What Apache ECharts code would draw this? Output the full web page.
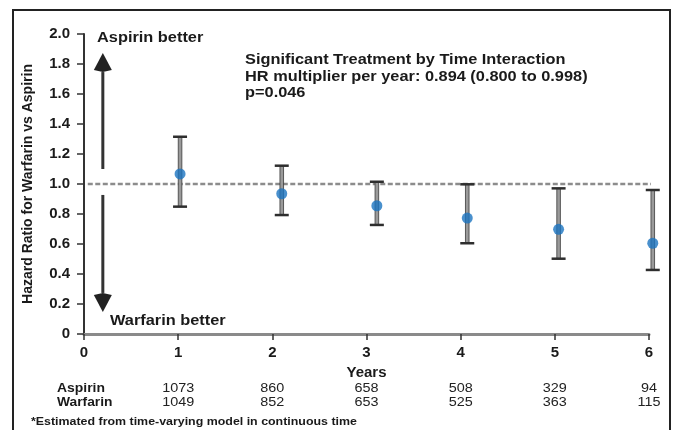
<!DOCTYPE html>
<html>
<head>
<meta charset="utf-8">
<script src="https://cdn.jsdelivr.net/npm/echarts@6/dist/echarts.min.js"></script>
<style>
html,body{margin:0;padding:0;background:#fff;}
#chart{width:674px;height:430px;}
</style>
</head>
<body>
<div id="chart"></div>
<script>
// ---- data ----
const years = [1, 2, 3, 4, 5, 6];                       // x tick / table columns
const pointX = [1.02, 2.10, 3.11, 4.07, 5.04, 6.04];    // plotted time of each estimate
const hr = [1.067, 0.935, 0.855, 0.773, 0.698, 0.605];  // hazard ratio
const ciLow = [0.849, 0.793, 0.727, 0.605, 0.502, 0.427];
const ciHigh = [1.315, 1.122, 1.015, 0.998, 0.971, 0.960];
const aspirinN = [1073, 860, 658, 508, 329, 94];
const warfarinN = [1049, 852, 653, 525, 363, 115];
const refLine = [[0.04, 1], [6.06, 1]];
const arrowUp = [0.2, 1.1, 1.873];    // x, from, tip
const arrowDown = [0.2, 0.927, 0.147];

const FONT = '"Liberation Sans", Arial, Helvetica, sans-serif';
const chart = echarts.init(document.getElementById('chart'), null, {renderer: 'canvas'});

function annot(text, x, y, size, scale) {
  return {
    type: 'text', x: x, y: y, scaleX: scale, z: 10,
    style: {text: text, x: 0, y: 0, fill: '#1a1a1a', font: 'bold ' + size + 'px ' + FONT,
            textAlign: 'left', textVerticalAlign: 'middle'}
  };
}

const option = {
  animation: false,
  backgroundColor: '#fff',
  grid: {left: 84, right: 25, top: 34, bottom: 96, containLabel: false},
  xAxis: {
    type: 'value', min: 0, max: 6, interval: 1,
    name: 'Years', nameLocation: 'middle', nameGap: 25,
    nameTextStyle: {fontFamily: FONT, fontWeight: 'bold', fontSize: 15, color: '#1a1a1a'},
    axisLine: {show: true, onZero: false, lineStyle: {color: '#8a8a8a', width: 3}},
    axisTick: {show: true, length: 6, lineStyle: {color: '#333', width: 1.5}},
    axisLabel: {fontFamily: FONT, fontWeight: 'bold', fontSize: 15, color: '#1a1a1a', margin: 11},
    splitLine: {show: false}
  },
  yAxis: {
    type: 'value', min: 0, max: 2, interval: 0.2,
    name: 'Hazard Ratio for Warfarin vs Aspirin', nameLocation: 'middle', nameGap: 49,
    nameTextStyle: {fontFamily: FONT, fontWeight: 'bold', fontSize: 14, color: '#1a1a1a'},
    axisLine: {show: true, lineStyle: {color: '#333', width: 2}},
    axisTick: {show: true, length: 7, lineStyle: {color: '#333', width: 1.5}},
    axisLabel: {fontFamily: FONT, fontWeight: 'bold', fontSize: 15, color: '#1a1a1a', margin: 14,
                formatter: function (v) { return v === 0 ? '0' : v.toFixed(1); }},
    splitLine: {show: false}
  },
  series: [
    {
      type: 'line', data: refLine, symbol: 'none', silent: true, clip: false, z: 2,
      lineStyle: {color: '#8c8c8c', width: 2.5, type: [5, 2.5]}
    },
    {
      type: 'custom', clip: false, z: 3, silent: true,
      data: pointX.map(function (x, i) { return [x, ciLow[i], ciHigh[i]]; }),
      renderItem: function (params, api) {
        const lo = api.coord([api.value(0), api.value(1)]);
        const hi = api.coord([api.value(0), api.value(2)]);
        const half = 7;
        return {
          type: 'group',
          children: [
            {type: 'rect', shape: {x: lo[0] - 1.8, y: hi[1], width: 3.6, height: lo[1] - hi[1]},
             style: {fill: '#9a9a9a', stroke: '#3a3a3a', lineWidth: 0.8}},
            {type: 'line', shape: {x1: hi[0] - half, y1: hi[1], x2: hi[0] + half, y2: hi[1]},
             style: {stroke: '#2e2e2e', lineWidth: 2.5}},
            {type: 'line', shape: {x1: lo[0] - half, y1: lo[1], x2: lo[0] + half, y2: lo[1]},
             style: {stroke: '#2e2e2e', lineWidth: 2.5}}
          ]
        };
      }
    },
    {
      type: 'scatter', clip: false, z: 5, silent: true,
      data: pointX.map(function (x, i) { return [x, hr[i]]; }),
      symbol: 'circle', symbolSize: 11,
      itemStyle: {color: '#1c74c0'}
    },
    {
      type: 'custom', clip: false, z: 4, silent: true,
      data: [[arrowUp[0], arrowUp[1], arrowUp[2]], [arrowDown[0], arrowDown[1], arrowDown[2]]],
      renderItem: function (params, api) {
        const a = api.coord([api.value(0), api.value(1)]);
        const t = api.coord([api.value(0), api.value(2)]);
        const dir = t[1] < a[1] ? -1 : 1;
        const headLen = 19, hw = 9;
        const base = t[1] - dir * headLen;
        return {
          type: 'group',
          children: [
            {type: 'line', shape: {x1: a[0], y1: a[1], x2: a[0], y2: base},
             style: {stroke: '#333', lineWidth: 3}},
            {type: 'polygon', shape: {points: [[t[0], t[1]], [t[0] - hw, base + dir * 2], [t[0], base], [t[0] + hw, base + dir * 2]]},
             style: {fill: '#222'}}
          ]
        };
      }
    },
    {
      type: 'custom', clip: false, z: 6, silent: true,
      data: years.map(function (y, i) { return [y, aspirinN[i], warfarinN[i]]; }),
      renderItem: function (params, api) {
        const p = api.coord([api.value(0), 0]);
        const st = function (txt) {
          return {text: String(txt), x: 0, y: 0, fill: '#222', font: '12px ' + FONT,
                  textAlign: 'center', textVerticalAlign: 'middle'};
        };
        return {
          type: 'group',
          children: [
            {type: 'text', x: p[0], y: p[1] + 55, scaleX: 1.2, style: st(api.value(1))},
            {type: 'text', x: p[0], y: p[1] + 69, scaleX: 1.2, style: st(api.value(2))}
          ]
        };
      }
    }
  ],
  graphic: [
    {type: 'rect', shape: {x: 13, y: 10, width: 657, height: 440}, z: 0,
     style: {fill: 'none', stroke: '#222', lineWidth: 2}},
    annot('Aspirin better', 97, 38, 15, 1.09),
    annot('Warfarin better', 110, 321, 15, 1.09),
    annot('Significant Treatment by Time Interaction', 245, 60, 15, 1.09),
    annot('HR multiplier per year: 0.894 (0.800 to 0.998)', 245, 77, 15, 1.09),
    annot('p=0.046', 245, 93, 15, 1.09),
    annot('Aspirin', 57, 389, 12, 1.16),
    annot('Warfarin', 57, 403, 12, 1.15),
    annot('*Estimated from time-varying model in continuous time', 31, 422, 10, 1.24)
  ]
};
chart.setOption(option);
</script>
</body>
</html>
